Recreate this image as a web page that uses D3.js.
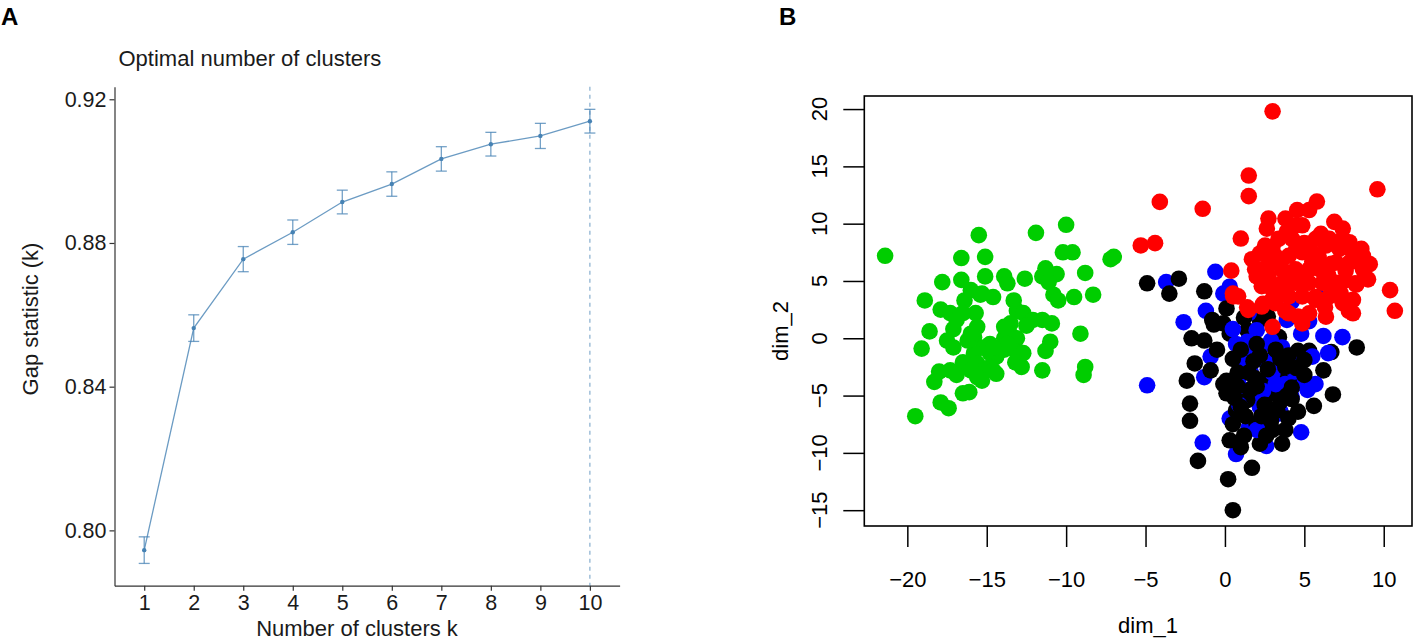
<!DOCTYPE html>
<html>
<head>
<meta charset="utf-8">
<script src="https://cdn.jsdelivr.net/npm/d3@7"></script>
<style>
  html, body { margin: 0; padding: 0; background: #fff; }
  svg { display: block; font-family: "Liberation Sans", Arial, Helvetica, sans-serif; }
</style>
</head>
<body>
<svg id="chart" width="1416" height="641"></svg>
<script>
// ---------- Panel A data ----------
const kValues = [1, 2, 3, 4, 5, 6, 7, 8, 9, 10];
const gapValues = [0.7945, 0.8563, 0.8755, 0.8830, 0.8914, 0.8964, 0.9034, 0.9075, 0.9098, 0.9139];
const gapSE = [0.0037, 0.0037, 0.0035, 0.0034, 0.0033, 0.0034, 0.0034, 0.0033, 0.0035, 0.0033];
const optimalK = 10;
const gapYTicks = [0.80, 0.84, 0.88, 0.92];

// ---------- Panel B data (dim_1, dim_2) ----------
const greenPts = [
  [-21.4,7.2],[-15.5,9.0],[-16.6,7.0],[-15.1,7.1],[-11.9,9.2],[-10.0,9.9],[-10.2,7.5],[-9.6,7.5],[-7.2,6.9],[-7.0,7.1],
  [-17.8,4.9],[-16.6,5.1],[-15.1,5.4],[-13.9,5.4],[-13.7,4.8],[-12.6,5.2],[-11.3,6.1],[-11.5,5.4],[-10.6,5.6],[-11.1,4.9],
  [-8.8,5.7],[-18.9,3.3],[-17.9,2.5],[-17.3,2.2],[-16.4,3.3],[-15.4,3.8],[-14.6,3.6],[-10.8,3.8],[-10.5,3.3],[-9.5,3.6],
  [-8.3,3.8],[-13.3,3.3],[-13.1,2.4],[-12.7,2.2],[-15.7,2.2],[-15.6,1.0],[-15.8,0.1],[-17.1,0.8],[-18.6,0.6],[-19.1,-0.9],
  [-17.5,-0.2],[-17.1,-0.8],[-12.1,1.6],[-11.5,1.6],[-10.9,1.3],[-12.5,1.1],[-13.5,0.3],[-13.1,0.0],[-9.1,0.4],[-11.0,-0.3],
  [-11.3,-1.1],[-15.2,-0.8],[-14.8,-1.3],[-14.4,-1.6],[-13.9,-1.0],[-15.8,-1.3],[-15.6,-2.2],[-15.2,-2.8],[-14.8,-2.5],[-16.5,-2.1],
  [-16.0,-2.8],[-13.1,-1.2],[-12.7,-1.3],[-13.2,-2.1],[-12.8,-2.5],[-11.5,-2.8],[-8.8,-2.5],[-8.9,-3.2],[-18.0,-2.9],[-18.3,-3.8],
  [-17.3,-2.8],[-16.9,-3.2],[-16.5,-4.8],[-16.1,-4.7],[-14.6,-2.8],[-14.4,-3.1],[-15.3,-3.7],[-15.6,-3.4],[-17.9,-5.6],[-17.4,-6.1],
  [-19.5,-6.8],[-13.9,0.0],[-13.7,-0.5],[-16.9,1.6],[-16.5,2.2],[-16.0,4.2],[-15.3,3.9],[-13.5,1.3],[-13.9,1.0],[-14.8,-0.5],
  [-14.6,-0.8],[-16.2,-0.2],[-16.0,0.4]
];
const redPts = [
  [3.0,19.8],[1.5,14.2],[1.5,12.4],[9.6,13.0],[-4.1,11.9],[-1.4,11.3],[-5.3,8.1],[-4.4,8.3],[1.0,8.7],[10.4,4.2],
  [10.7,2.4],[0.4,5.9],[1.7,6.9],[0.5,3.9],[1.4,2.7],[2.4,3.0],[3.0,1.0],[2.6,4.8],[2.8,6.5],[2.0,5.4],
  [7.8,2.4],[8.2,4.8],[8.8,5.4],[8.8,6.7],[7.3,3.9],[6.3,2.7],[5.7,3.6],[4.6,1.9],[3.8,2.4],[5.0,4.8],
  [3.8,4.8],[6.7,6.5],[5.9,7.1],[2.74,10.45],[3.81,10.45],[4.55,11.19],[5.30,11.19],[5.79,11.93],[4.45,9.86],[4.87,9.86],
  [2.64,9.57],[3.38,8.68],[4.23,8.68],[6.04,9.12],[6.89,10.16],[7.42,9.57],[7.84,8.38],[8.59,7.80],[9.12,6.47],[8.69,7.20],
  [8.06,7.50],[7.21,7.80],[6.36,8.09],[5.51,7.50],[4.87,7.50],[4.02,7.20],[3.17,7.20],[2.53,8.09],[2.32,6.02],[2.74,5.43],
  [3.60,6.02],[4.45,6.02],[5.30,6.02],[6.14,6.32],[7.0,6.61],[7.84,6.61],[8.69,6.02],[9.01,5.14],[8.27,4.69],[8.06,3.36],
  [8.06,2.18],[7.42,3.06],[6.57,3.66],[7.0,4.84],[6.14,4.84],[5.30,4.84],[4.45,4.84],[3.60,4.84],[2.74,4.54],[2.32,4.54],
  [1.90,6.02],[2.96,3.36],[4.02,3.66],[4.87,3.66],[5.72,3.36],[6.36,1.88],[5.30,2.18],[4.87,1.29],[4.02,2.18],[3.17,3.06],
  [2.32,2.77],[1.47,2.48],[0.52,3.66],[0.83,3.66],[5.72,8.68],[6.57,8.68],[7.42,8.68],
  [3.5,6.5],[4.0,5.5],[5.0,5.5],[6.5,5.5],[7.5,5.0],[3.0,8.0],[5.0,8.3],[6.0,6.0],[4.5,7.9],[2.2,7.4],
  [3.3,4.0],[6.8,4.2],[7.6,5.9],[5.5,6.7],[3.9,9.3]
];
const blackPts = [
  [-4.9,4.8],[-2.9,5.2],[-3.5,3.9],[-1.3,4.1],[-2.1,0.0],[-1.3,-0.2],[-0.8,1.6],[0.1,2.6],[-0.1,1.3],[0.3,0.4],
  [-1.9,-2.2],[-2.4,-3.7],[-0.9,-2.8],[2.2,1.6],[1.4,0.7],[3.0,-2.5],[2.4,-3.7],[0.1,-3.7],[-0.7,1.2],[6.7,-1.2],
  [8.3,-0.8],[3.4,0.1],[5.3,-1.1],[6.2,-2.8],[4.6,-1.1],[2.9,-1.9],[3.8,-3.1],[5.0,-1.9],[2.9,-3.4],[4.4,-4.0],
  [2.7,1.9],[-2.2,-5.7],[-2.2,-7.2],[-1.7,-10.7],[0.2,-12.3],[0.5,-15.0],[1.7,-11.3],[0.3,-8.9],[0.5,-7.5],[2.2,-9.2],
  [2.0,-7.5],[0.1,-4.8],[0.7,-6.3],[3.0,-8.0],[-0.1,-4.0],[1.4,-5.4],[2.8,-4.8],[6.8,-4.9],[5.6,-5.9],[4.6,-6.4],
  [3.6,-9.2],[3.8,-8.0],[2.9,-7.2],[3.1,-4.5],[4.2,-4.3],[1.5,-3.0],[2.0,-4.2],[2.5,-5.8],[1.0,-6.0],[3.5,-5.5],
  [4.0,-7.0],[1.8,-2.0],[3.2,-1.0],[2.3,-6.8],[1.2,-8.5],[3.8,-2.5],[4.5,-2.6],[1.0,-1.0],[2.0,-0.5],[0.8,-3.0],
  [1.6,-4.5],[3.3,-6.3],[2.6,-8.5],[1.0,-9.5],[4.2,-5.3],[5.0,-3.2],[0.5,-1.8],[-0.5,-1.0],[1.2,1.8],
  [0.8,-4.2],[1.9,-3.5],[2.7,-2.7],[3.5,-1.8],[1.3,-6.8],[2.8,-6.2],[3.9,-5.0],[0.6,-5.2],[2.2,-1.5],[4.0,-1.5]
];
const bluePts = [
  [-3.7,4.9],[-0.6,5.8],[-2.6,1.4],[-1.2,2.4],[-0.1,3.9],[0.3,4.5],[-0.9,-1.6],[-1.3,-3.4],[-4.9,-4.1],[0.7,-0.5],
  [1.2,-1.6],[0.9,-3.4],[1.8,-1.1],[1.6,-2.8],[2.8,-0.5],[2.0,0.7],[4.2,3.2],[6.2,0.2],[7.4,0.1],[3.9,1.6],
  [5.3,1.5],[2.9,-0.2],[3.6,-0.8],[4.8,0.4],[5.5,-1.6],[4.2,-2.2],[6.5,-1.3],[5.7,-4.0],[4.6,-3.4],[5.9,3.6],
  [-1.4,-9.1],[0.7,-10.1],[2.6,-9.4],[1.5,-7.8],[0.3,-7.0],[1.2,-4.5],[2.2,-6.0],[3.3,-6.6],[4.8,-8.2],[3.5,-6.4],
  [4.2,-5.1],[5.2,-4.5],[2.6,-7.5],[5.0,-4.0],[1.8,-5.0],[3.0,-3.0],[2.5,-2.0],[1.0,-2.5],[3.8,-4.0],[2.0,-8.0],
  [0.5,0.8],[1.5,2.2],[1.4,-0.3],[2.4,-4.6],[3.2,-4.0],[0.9,-5.8],[4.4,-2.9]
];
const dimXTicks = [-20, -15, -10, -5, 0, 5, 10];
const dimYTicks = [-15, -10, -5, 0, 5, 10, 15, 20];

const svg = d3.select("#chart");
svg.append("rect").attr("width", 1416).attr("height", 641).attr("fill", "#fff");

// ---------- Panel labels ----------
svg.append("text").attr("x", 1).attr("y", 25).attr("font-size", 24).attr("font-weight", "bold").text("A");
svg.append("text").attr("x", 779).attr("y", 25).attr("font-size", 24).attr("font-weight", "bold").text("B");

// ---------- Panel A ----------
const blue = "#4682B4";
const xA = d3.scaleLinear().domain([0.4, 10.6]).range([114.5, 619.6]);
const yA = d3.scaleLinear().domain([0.7846, 0.9235]).range([585.7, 86.7]);
const gA = svg.append("g");

const axA_y = gA.append("g").attr("transform", "translate(114.5,0)")
  .call(d3.axisLeft(yA).tickValues(gapYTicks).tickFormat(d3.format(".2f")).tickSize(5).tickPadding(3).tickSizeOuter(0));
const axA_x = gA.append("g").attr("transform", "translate(0,585.7)")
  .call(d3.axisBottom(xA).tickValues(kValues).tickFormat(d3.format("d")).tickSize(5).tickPadding(4.5).tickSizeOuter(0));
[axA_y, axA_x].forEach(a => {
  a.selectAll("path.domain").attr("stroke", "#333").attr("stroke-width", 1.2);
  a.selectAll(".tick line").attr("stroke", "#333").attr("stroke-width", 1.2);
  a.selectAll("text").attr("font-size", 21.5).attr("fill", "#1a1a1a").attr("font-family", "Liberation Sans, Arial, sans-serif");
});

// optimal k dashed line
gA.append("line")
  .attr("x1", xA(optimalK)).attr("x2", xA(optimalK))
  .attr("y1", yA.range()[1]).attr("y2", yA.range()[0])
  .attr("stroke", blue).attr("stroke-opacity", 0.7).attr("stroke-width", 1.1).attr("stroke-dasharray", "4,4");

// error bars
const capW = 5.5;
const eb = gA.append("g").attr("stroke", blue).attr("stroke-opacity", 0.75).attr("stroke-width", 1.3);
kValues.forEach((k, i) => {
  const lo = yA(gapValues[i] - gapSE[i]), hi = yA(gapValues[i] + gapSE[i]), x = xA(k);
  eb.append("line").attr("x1", x).attr("x2", x).attr("y1", lo).attr("y2", hi);
  eb.append("line").attr("x1", x - capW).attr("x2", x + capW).attr("y1", lo).attr("y2", lo);
  eb.append("line").attr("x1", x - capW).attr("x2", x + capW).attr("y1", hi).attr("y2", hi);
});

// line + points
gA.append("path")
  .datum(kValues.map((k, i) => [k, gapValues[i]]))
  .attr("fill", "none").attr("stroke", blue).attr("stroke-opacity", 0.8).attr("stroke-width", 1.3)
  .attr("d", d3.line().x(d => xA(d[0])).y(d => yA(d[1])));
gA.selectAll("circle.gp").data(kValues).enter().append("circle")
  .attr("cx", k => xA(k)).attr("cy", (k, i) => yA(gapValues[i])).attr("r", 2.2).attr("fill", blue);

gA.append("text").attr("x", 118.5).attr("y", 66).attr("font-size", 22).attr("fill", "#1a1a1a")
  .text("Optimal number of clusters");
gA.append("text").attr("x", 357).attr("y", 636).attr("text-anchor", "middle").attr("font-size", 22).attr("fill", "#1a1a1a")
  .text("Number of clusters k");
gA.append("text").attr("transform", "translate(38,319) rotate(-90)").attr("text-anchor", "middle")
  .attr("font-size", 22).attr("fill", "#1a1a1a").text("Gap statistic (k)");

// ---------- Panel B ----------
const xB = d3.scaleLinear().domain([-22.71, 11.78]).range([864.3, 1412]);
const yB = d3.scaleLinear().domain([-16.38, 21.14]).range([526, 96]);
const gB = svg.append("g");

const axB_x = gB.append("g").attr("transform", "translate(0,526)")
  .call(d3.axisBottom(xB).tickValues(dimXTicks).tickFormat(d3.format("d")).tickSize(21).tickPadding(24));
axB_x.select("path.domain").remove();
axB_x.selectAll(".tick line").attr("stroke", "#000").attr("stroke-width", 1.5);
axB_x.selectAll("text").attr("font-size", 22).attr("fill", "#000").attr("font-family", "Liberation Sans, Arial, sans-serif");

const axB_y = gB.append("g").attr("transform", "translate(864.3,0)")
  .call(d3.axisLeft(yB).tickValues(dimYTicks).tickFormat("").tickSize(21));
axB_y.select("path.domain").remove();
axB_y.selectAll(".tick line").attr("stroke", "#000").attr("stroke-width", 1.5);
gB.selectAll("text.ylab").data(dimYTicks).enter().append("text")
  .attr("transform", d => `translate(827,${yB(d)}) rotate(-90)`)
  .attr("text-anchor", "middle").attr("font-size", 22).attr("fill", "#000")
  .text(d => d3.format("d")(d));

// points: black & blue interleaved, then red, then green
const drawOrder = [];
const n = Math.max(blackPts.length, bluePts.length);
for (let i = 0; i < n; i++) {
  if (i < blackPts.length) drawOrder.push({p: blackPts[i], c: "#000000"});
  if (i < bluePts.length) drawOrder.push({p: bluePts[i], c: "#0000FF"});
}
redPts.forEach(p => drawOrder.push({p, c: "#FF0000"}));
greenPts.forEach(p => drawOrder.push({p, c: "#00CD00"}));
gB.append("g").selectAll("circle").data(drawOrder).enter().append("circle")
  .attr("cx", d => xB(d.p[0])).attr("cy", d => yB(d.p[1])).attr("r", 8.3).attr("fill", d => d.c);

gB.append("rect").attr("x", 864.3).attr("y", 96).attr("width", 1412 - 864.3).attr("height", 526 - 96)
  .attr("fill", "none").attr("stroke", "#000").attr("stroke-width", 1.6);

gB.append("text").attr("x", 1148).attr("y", 633).attr("text-anchor", "middle").attr("font-size", 22).text("dim_1");
gB.append("text").attr("transform", "translate(788,331) rotate(-90)").attr("text-anchor", "middle")
  .attr("font-size", 22).text("dim_2");
</script>
</body>
</html>
